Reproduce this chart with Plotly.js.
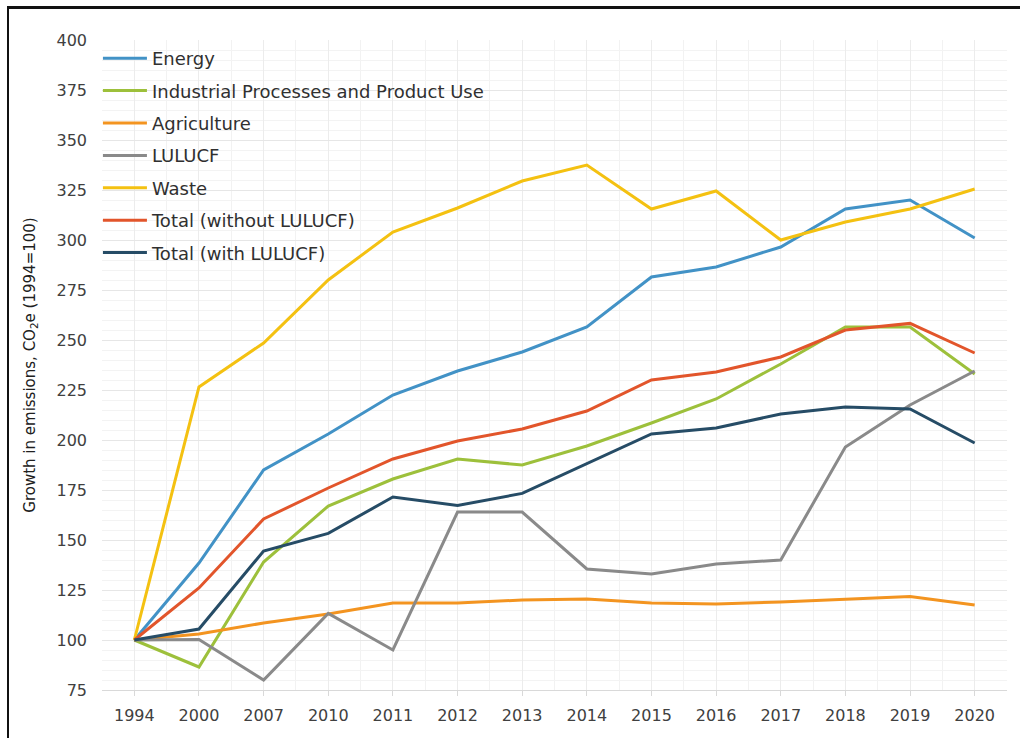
<!DOCTYPE html>
<html>
<head>
<meta charset="utf-8">
<script src="https://cdn.plot.ly/plotly-3.0.1.min.js"></script>
<style>
  html, body { margin: 0; padding: 0; background: #ffffff; }
  #frame { position: absolute; left: 7px; top: 6px; width: 1013px; height: 732px;
           border-left: 2px solid #111; border-top: 3px solid #111; box-sizing: border-box; }
  #chart { position: absolute; left: 0; top: 0; width: 1020px; height: 738px; }
</style>
</head>
<body>
<div id="frame"></div>
<div id="chart"></div>
<script>
const years = ["1994","2000","2007","2010","2011","2012","2013","2014","2015","2016","2017","2018","2019","2020"];

const energy      = [100, 138.5, 185, 203, 222.5, 234.5, 244, 256.5, 281.5, 286.5, 296.5, 315.5, 320, 301];
const ippu        = [100, 86.5, 139, 167, 180.5, 190.5, 187.5, 197, 208.5, 220.5, 238, 256.5, 256.5, 233];
const agriculture = [100, 103, 108.5, 113, 118.5, 118.5, 120, 120.5, 118.5, 118, 119, 120.5, 121.8, 117.5];
const lulucf      = [100, 100.3, 80, 113.3, 95, 164, 164, 135.5, 133, 138, 140, 196.5, 217.5, 234.5];
const waste       = [100, 226.5, 248.5, 280, 304, 316, 329.5, 337.5, 315.5, 324.5, 300, 309, 315.5, 325.5];
const totalNoLulucf   = [100, 126, 160.5, 176, 190.5, 199.5, 205.5, 214.5, 230, 234, 241.5, 255, 258.3, 243.5];
const totalWithLulucf = [100, 105.5, 144.5, 153.3, 171.5, 167.3, 173.3, 188, 203, 206, 213, 216.5, 215.5, 198.5];

const seriesNames = ["Energy", "Industrial Processes and Product Use", "Agriculture", "LULUCF", "Waste",
                     "Total (without LULUCF)", "Total (with LULUCF)"];
const seriesData = [energy, ippu, agriculture, lulucf, waste, totalNoLulucf, totalWithLulucf];
const seriesColors = ["#4292c6", "#9dc03b", "#f39420", "#8a8a8a", "#f4c111", "#e2552b", "#264c66"];

const xIdx = years.map((y, i) => i);

const traces = seriesNames.map((name, k) => ({
  type: "scatter",
  mode: "lines",
  name: name,
  legendgroup: "g" + k,
  x: xIdx,
  y: seriesData[k],
  line: { color: seriesColors[k], width: 3 },
  hoverinfo: "x+y+name"
}));

const font = "'DejaVu Sans', sans-serif";

const layout = {
  width: 1020,
  height: 738,
  margin: { l: 102, r: 13, t: 40, b: 48 },
  paper_bgcolor: "rgba(0,0,0,0)",
  plot_bgcolor: "#ffffff",
  font: { family: font, size: 16, color: "#404040" },
  showlegend: true,
  legend: {
    x: -0.0045, xanchor: "left",
    y: 1.0, yanchor: "top",
    bgcolor: "rgba(0,0,0,0)",
    borderwidth: 0,
    traceorder: "grouped",
    tracegroupgap: 6,
    itemwidth: 44,
    font: { family: font, size: 18, color: "#303030" }
  },
  xaxis: {
    range: [-0.5, 13.5],
    tickmode: "array",
    tickvals: xIdx,
    ticktext: years,
    showline: true,
    linecolor: "#d9d9d9",
    linewidth: 1,
    ticks: "outside",
    ticklen: 5,
    tickcolor: "#d9d9d9",
    ticklabelstandoff: 6,
    showgrid: true,
    gridcolor: "#ececec",
    zeroline: false,
    tickfont: { family: font, size: 16, color: "#404040" },
    minor: { tickmode: "linear", tick0: 0.5, dtick: 1, showgrid: true, gridcolor: "#f2f2f2", ticks: "" },
    fixedrange: true
  },
  yaxis: {
    range: [75, 400],
    tickmode: "linear",
    tick0: 75,
    dtick: 25,
    showline: false,
    showgrid: true,
    gridcolor: "#e6e6e6",
    zeroline: false,
    ticks: "",
    ticklabelstandoff: 14,
    tickfont: { family: font, size: 16, color: "#404040" },
    minor: { tickmode: "linear", tick0: 75, dtick: 5, showgrid: true, gridcolor: "#f3f3f3", ticks: "" },
    title: {
      text: "Growth in emissions, CO<sub>2</sub>e (1994=100)",
      font: { family: font, size: 15, color: "#202020" },
      standoff: 17
    },
    fixedrange: true
  }
};

Plotly.newPlot("chart", traces, layout, { displayModeBar: false, staticPlot: true });
</script>
</body>
</html>
